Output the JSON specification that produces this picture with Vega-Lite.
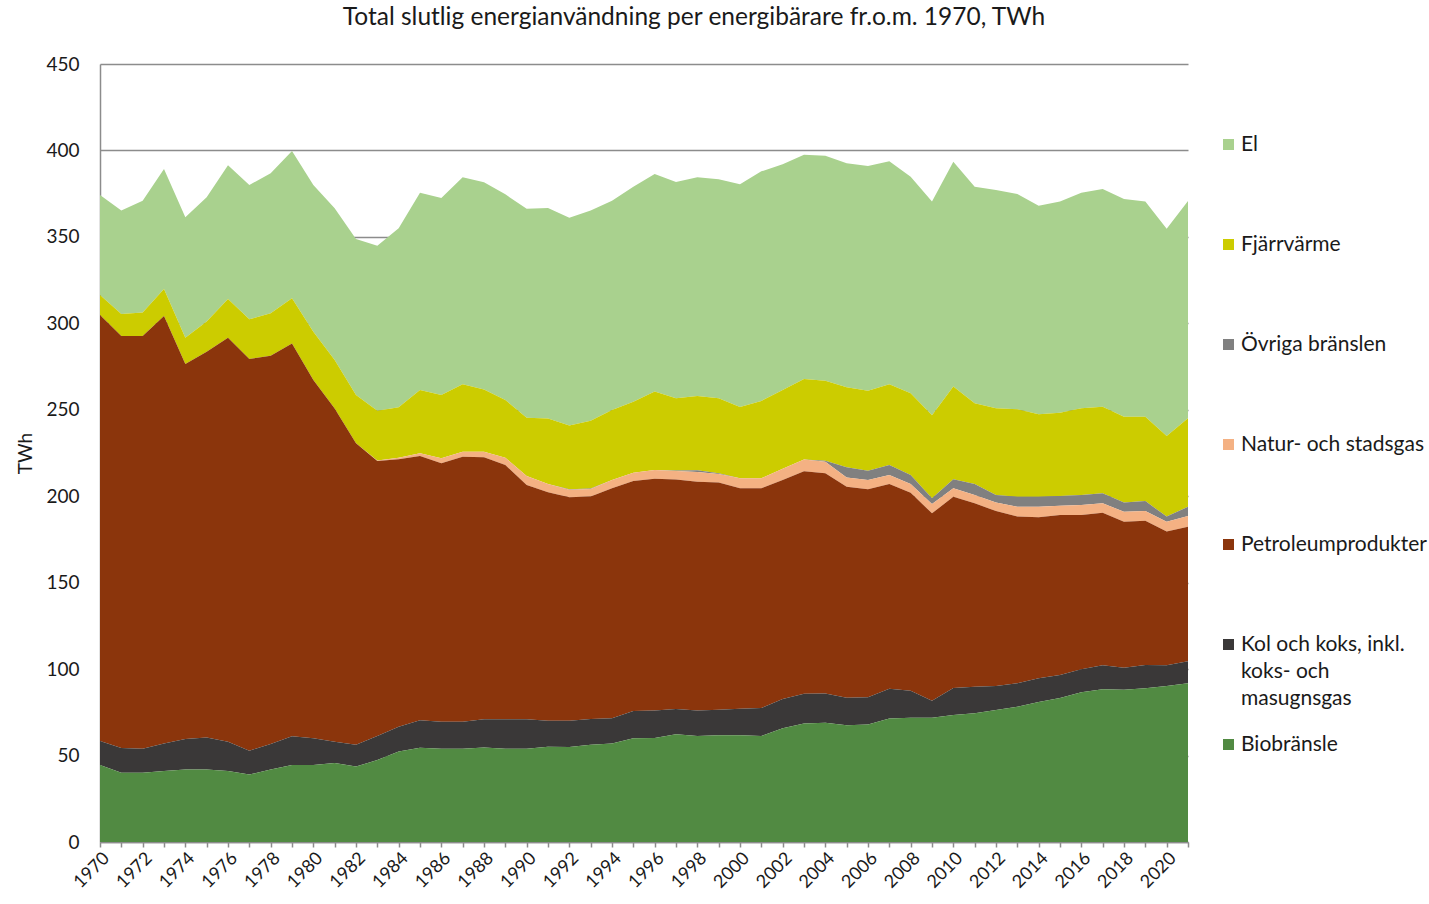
{
  "$schema": "https://vega.github.io/schema/vega-lite/v6.json",
  "width": 1088,
  "height": 778,
  "autosize": {"type": "none"},
  "padding": {"left": 100, "top": 64, "right": 241, "bottom": 62},
  "background": "white",
  "title": {
    "text": "Total slutlig energianvändning per energibärare fr.o.m. 1970, TWh",
    "font": "Lato",
    "fontSize": 24.5,
    "fontWeight": "normal",
    "color": "#1a1a1a",
    "anchor": "middle",
    "dx": 50,
    "offset": 25
  },
  "data": {
    "values": [
      {"serie": "El", "år": [1970,1971,1972,1973,1974,1975,1976,1977,1978,1979,1980,1981,1982,1983,1984,1985,1986,1987,1988,1989,1990,1991,1992,1993,1994,1995,1996,1997,1998,1999,2000,2001,2002,2003,2004,2005,2006,2007,2008,2009,2010,2011,2012,2013,2014,2015,2016,2017,2018,2019,2020,2021],
       "TWh": [57.8,59.8,64.7,69.4,69.6,71.9,77.4,77.7,81,85.2,84.8,87.7,90.3,95.4,103.6,114.2,114,119.8,119.8,118.9,120.9,121.7,120.1,121.5,121,124.3,125.9,125.1,126.5,126.7,128.9,132.8,130.6,129.7,130.2,129.6,130,129,125.3,123.6,130.1,125.2,126.2,124.5,120.6,122.1,124.7,125.9,125.9,124.5,119.9,125.6]},
      {"serie": "Fjärrvärme", "år": [1970,1971,1972,1973,1974,1975,1976,1977,1978,1979,1980,1981,1982,1983,1984,1985,1986,1987,1988,1989,1990,1991,1992,1993,1994,1995,1996,1997,1998,1999,2000,2001,2002,2003,2004,2005,2006,2007,2008,2009,2010,2011,2012,2013,2014,2015,2016,2017,2018,2019,2020,2021],
       "TWh": [11.6,12.7,13.5,15.7,15.2,17.4,22.4,22.9,24.5,26.1,28,28,27.9,28.8,29.1,36.6,36.6,39,36.1,33.4,33.7,37.9,36.9,39.2,40.5,41.1,45.3,41.7,43,43.3,41.2,44.7,45.5,46.6,46.3,46.3,46.2,46.7,47.2,48,53.6,46.7,50.2,50.6,47.7,48.2,50.2,50.1,49.7,48.8,46.6,51.2]},
      {"serie": "Övriga bränslen", "år": [1970,1971,1972,1973,1974,1975,1976,1977,1978,1979,1980,1981,1982,1983,1984,1985,1986,1987,1988,1989,1990,1991,1992,1993,1994,1995,1996,1997,1998,1999,2000,2001,2002,2003,2004,2005,2006,2007,2008,2009,2010,2011,2012,2013,2014,2015,2016,2017,2018,2019,2020,2021],
       "TWh": [0,0,0,0,0,0,0,0,0,0,0,0,0,0,0,0,0,0,0,0,0,0,0.3,0.3,0,0,0,0.3,1.0,0.4,0,0,0,0,0.5,5.8,5.4,5.7,5.2,3.3,5.2,6.4,4.4,5.8,5.8,5.6,5.8,5.8,5.3,5.8,2.9,5.3]},
      {"serie": "Natur- och stadsgas", "år": [1970,1971,1972,1973,1974,1975,1976,1977,1978,1979,1980,1981,1982,1983,1984,1985,1986,1987,1988,1989,1990,1991,1992,1993,1994,1995,1996,1997,1998,1999,2000,2001,2002,2003,2004,2005,2006,2007,2008,2009,2010,2011,2012,2013,2014,2015,2016,2017,2018,2019,2020,2021],
       "TWh": [0,0,0,0,0,0,0,0,0,0,0,0,0,0.3,0.9,1.5,2.9,2.8,3.2,4.3,5.2,4.8,4.3,4.4,4.8,4.8,5.1,4.9,5.6,5,5.8,5.8,6.5,6.7,6.7,5.4,5.4,5.2,5.1,5.4,4.9,4.8,4.9,5.7,6.1,5.4,5.8,5.4,5.7,5.6,5.7,6.2]},
      {"serie": "Petroleumprodukter", "år": [1970,1971,1972,1973,1974,1975,1976,1977,1978,1979,1980,1981,1982,1983,1984,1985,1986,1987,1988,1989,1990,1991,1992,1993,1994,1995,1996,1997,1998,1999,2000,2001,2002,2003,2004,2005,2006,2007,2008,2009,2010,2011,2012,2013,2014,2015,2016,2017,2018,2019,2020,2021],
       "TWh": [246.4,238.3,238.7,247.2,216.9,223.1,233.7,226.6,224.6,227.3,207.2,192.8,174.3,159.1,154.7,152.9,149.4,153.4,151.5,147,135.5,132.1,129.2,128.6,133,133,134.1,132.8,132.3,131.4,127.5,127.1,126.7,128.7,127.4,122,120.3,118.4,114.5,108.4,110.6,106.1,101.2,96.4,93.1,92.5,89.2,88.3,84.5,83.4,77.4,77.9]},
      {"serie": "Kol och koks, inkl. koks- och masugnsgas", "år": [1970,1971,1972,1973,1974,1975,1976,1977,1978,1979,1980,1981,1982,1983,1984,1985,1986,1987,1988,1989,1990,1991,1992,1993,1994,1995,1996,1997,1998,1999,2000,2001,2002,2003,2004,2005,2006,2007,2008,2009,2010,2011,2012,2013,2014,2015,2016,2017,2018,2019,2020,2021],
       "TWh": [13.9,14.4,14,16,17.6,18.5,17,13.8,14.7,16.6,15.5,12.3,12.7,13.9,14.3,15.9,15.6,15.5,16.4,17,17,15.1,15.2,14.9,14.6,15.8,15.8,14.6,14.8,14.8,15.4,16.2,16.9,17.2,16.9,16,15.7,17.2,15.7,9.9,15.6,15.4,13.9,13.5,13.7,13.3,13.3,13.9,12.8,13.5,12,12.7]},
      {"serie": "Biobränsle", "år": [1970,1971,1972,1973,1974,1975,1976,1977,1978,1979,1980,1981,1982,1983,1984,1985,1986,1987,1988,1989,1990,1991,1992,1993,1994,1995,1996,1997,1998,1999,2000,2001,2002,2003,2004,2005,2006,2007,2008,2009,2010,2011,2012,2013,2014,2015,2016,2017,2018,2019,2020,2021],
       "TWh": [44.5,40,40,41,42,42,41,39,42,44.5,44.5,45.7,43.6,47.4,52.4,54.5,54,54,54.6,54,54,55.1,55,56.3,57,60,60.2,62.3,61.3,61.7,61.7,61.3,65.8,68.6,69,67.5,68,71.5,71.8,71.8,73.5,74.4,76.3,78.3,81,83.3,86.6,88.3,88,88.9,90.2,91.8]}
    ]
  },
  "transform": [
    {"flatten": ["år", "TWh"]},
    {"calculate": "indexof(['Biobränsle', 'Kol och koks, inkl. koks- och masugnsgas', 'Petroleumprodukter', 'Natur- och stadsgas', 'Övriga bränslen', 'Fjärrvärme', 'El'], datum.serie)", "as": "stapelordning"}
  ],
  "mark": {"type": "area", "interpolate": "linear", "opacity": 1},
  "encoding": {
    "x": {
      "field": "år",
      "type": "quantitative",
      "scale": {"domain": [1970, 2021], "nice": false, "zero": false},
      "axis": {
        "title": null,
        "values": [1970,1971,1972,1973,1974,1975,1976,1977,1978,1979,1980,1981,1982,1983,1984,1985,1986,1987,1988,1989,1990,1991,1992,1993,1994,1995,1996,1997,1998,1999,2000,2001,2002,2003,2004,2005,2006,2007,2008,2009,2010,2011,2012,2013,2014,2015,2016,2017,2018,2019,2020,2021],
        "labelExpr": "datum.value % 2 == 0 ? format(datum.value, 'd') : ''",
        "labelAngle": -45,
        "labelOverlap": false,
        "labelFont": "Lato",
        "labelFontSize": 18,
        "labelColor": "#1a1a1a",
        "labelPadding": 2,
        "grid": false,
        "ticks": true,
        "tickSize": 5,
        "tickColor": "#8c8c8c",
        "tickWidth": 1.5,
        "domainColor": "#8c8c8c",
        "domainWidth": 1.5
      }
    },
    "y": {
      "field": "TWh",
      "type": "quantitative",
      "stack": "zero",
      "scale": {"domain": [0, 450], "nice": false},
      "axis": {
        "title": "TWh",
        "titleFont": "Lato",
        "titleFontSize": 19,
        "titleFontWeight": "normal",
        "titleColor": "#1a1a1a",
        "titlePadding": 10,
        "values": [0, 50, 100, 150, 200, 250, 300, 350, 400, 450],
        "labelFont": "Lato",
        "labelFontSize": 19,
        "labelColor": "#1a1a1a",
        "labelPadding": 21,
        "ticks": false,
        "grid": true,
        "gridColor": "#8c8c8c",
        "gridWidth": 1.5,
        "domainColor": "#8c8c8c",
        "domainWidth": 1.5
      }
    },
    "order": {"field": "stapelordning", "type": "quantitative", "sort": "ascending"},
    "color": {
      "field": "serie",
      "type": "nominal",
      "scale": {
        "domain": ["El", "Fjärrvärme", "Övriga bränslen", "Natur- och stadsgas", "Petroleumprodukter", "Kol och koks, inkl. koks- och masugnsgas", "Biobränsle"],
        "range": ["#A9D18E", "#CCCC00", "#808080", "#F4B183", "#8B350C", "#3A3838", "#518A42"]
      },
      "legend": {
        "orient": "none",
        "legendX": 1118,
        "legendY": 70,
        "title": null,
        "padding": 0,
        "symbolType": "square",
        "symbolSize": 121,
        "symbolStrokeWidth": 0,
        "symbolOpacity": 1,
        "labelFont": "Lato",
        "labelFontSize": 21,
        "labelColor": "#1a1a1a",
        "labelLimit": 300,
        "labelOffset": 2,
        "gridAlign": "all",
        "rowPadding": 24,
        "labelExpr": "datum.value == 'Kol och koks, inkl. koks- och masugnsgas' ? ['Kol och koks, inkl.', 'koks- och', 'masugnsgas'] : datum.label",
        "encode": {
          "labels": {
            "update": {
              "lineHeight": {"value": 27}
            }
          }
        }
      }
    }
  },
  "config": {
    "view": {"stroke": null},
    "font": "Lato"
  }
}
